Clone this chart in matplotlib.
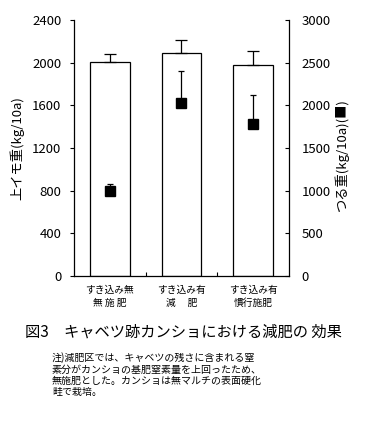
import matplotlib
matplotlib.use("Agg")
import matplotlib.pyplot as plt
import numpy as np

plt.rcParams['font.family'] = ['Noto Sans CJK JP', 'DejaVu Sans']

# data
cats_line1 = ["すき込み無", "すき込み有", "すき込み有"]
cats_line2 = ["無 施 肥", "減　 肥", "慣行施肥"]
imo = [2010, 2090, 1975]          # 上イモ重 (left axis, bars)
imo_err = [68, 120, 132]
tsuru = [1000, 2025, 1780]        # つる重 (right axis, squares)
tsuru_err = [82, 380, 345]
left_ticks = [0, 400, 800, 1200, 1600, 2000, 2400]
right_ticks = [0, 500, 1000, 1500, 2000, 2500, 3000]

title = "図3　キャベツ跡カンショにおける減肥の 効果"
notes = ["注)減肥区では、キャベツの残さに含まれる窒",
         "素分がカンショの基肥窒素量を上回ったため、",
         "無施肥とした。カンショは無マルチの表面硬化",
         "畦で栽培。"]

fig = plt.figure(figsize=(3.69, 4.25), dpi=100)
ax = fig.add_axes([0.2005, 0.3506, 0.5827, 0.6024])
x = np.arange(len(imo))

ax.bar(x, imo, width=0.55, color="white", edgecolor="black", linewidth=0.9, zorder=2)
ax.errorbar(x, imo, yerr=[np.zeros(len(imo)), imo_err], fmt="none",
            ecolor="black", elinewidth=0.9, capsize=4.5, capthick=0.9, zorder=3)
ax.set_xlim(-0.5, 2.5)
ax.set_ylim(0, 2400)
ax.set_yticks(left_ticks)
ax.tick_params(axis="y", direction="out", length=3, width=0.8, pad=6, labelsize=9.5)
ax.set_xticks([])
ax.set_xticks([0.5, 1.5], minor=True)
ax.tick_params(axis="x", which="minor", direction="in", length=3, width=0.8)
ax.spines["top"].set_visible(False)
ax.spines["right"].set_visible(False)
for s in ["left", "bottom"]:
    ax.spines[s].set_linewidth(0.9)
ax.set_ylabel("上イモ重(kg/10a)", fontsize=9.5, labelpad=6)

ax2 = ax.twinx()
ax2.errorbar(x, tsuru, yerr=[np.zeros(len(tsuru)), tsuru_err], fmt="s",
             color="black", markersize=7.9, elinewidth=0.9, capsize=2, capthick=0.9,
             zorder=4)
ax2.set_ylim(0, 3000)
ax2.set_yticks(right_ticks)
ax2.tick_params(axis="y", direction="in", length=3, width=0.8, pad=9, labelsize=9.5)
ax2.spines["top"].set_visible(False)
ax2.spines["left"].set_visible(False)
ax2.spines["bottom"].set_visible(False)
ax2.spines["right"].set_linewidth(0.9)
ax2.set_ylabel("つる重(kg/10a)(■)", fontsize=9.5, rotation=90)
ax2.yaxis.set_label_coords(1.21, 0.47)

for i in range(len(x)):
    ax.annotate(cats_line1[i], xy=(x[i], 0), xycoords=("data", "axes fraction"),
                xytext=(0, -10), textcoords="offset points",
                ha="center", va="center", fontsize=7)
    ax.annotate(cats_line2[i], xy=(x[i], 0), xycoords=("data", "axes fraction"),
                xytext=(0, -19.5), textcoords="offset points",
                ha="center", va="center", fontsize=7)

fig.text(25 / 369, 1 - 332 / 425, title, fontsize=11, ha="left", va="center")
for k, line in enumerate(notes):
    fig.text(52 / 369, 1 - (358 + 11.4 * k) / 425, line, fontsize=7.2,
             ha="left", va="center")

fig.savefig("out.png", dpi=100)
